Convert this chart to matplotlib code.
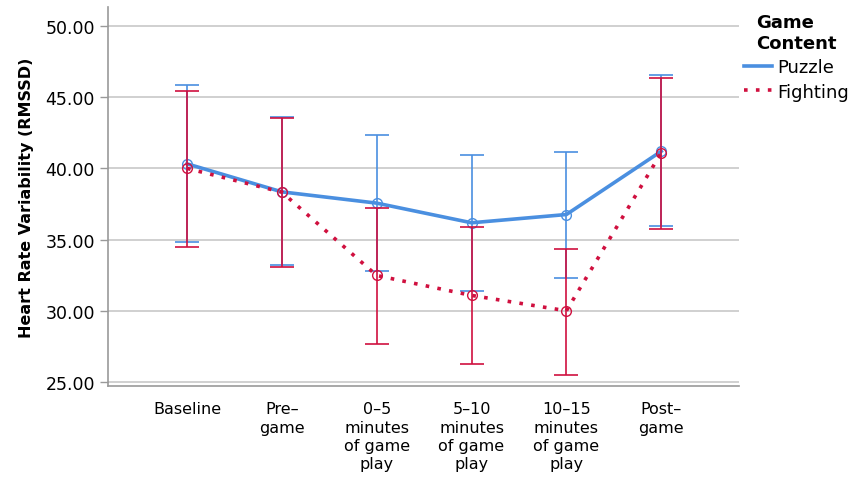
import numpy as np
import matplotlib.pyplot as plt

categories = ["Baseline", "Pre–\ngame", "0–5\nminutes\nof game\nplay",
              "5–10\nminutes\nof game\nplay", "10–15\nminutes\nof game\nplay",
              "Post–\ngame"]

puzzle_mean = [40.32, 38.35, 37.56, 36.18, 36.76, 41.20]
puzzle_low = [34.82, 33.20, 32.80, 31.38, 32.28, 35.92]
puzzle_high = [45.86, 43.60, 42.35, 40.95, 41.14, 46.56]

fighting_mean = [40.00, 38.33, 32.48, 31.08, 30.00, 41.09]
fighting_low = [34.47, 33.11, 27.68, 26.28, 25.51, 35.75]
fighting_high = [45.46, 43.52, 37.23, 35.87, 34.35, 46.37]

yticks = [25, 30, 35, 40, 45, 50]

blue = "#4a8fe0"
red = "#d0103f"

fig = plt.figure(figsize=(8.51, 4.81), dpi=100)
ax = fig.add_axes([0.1269, 0.1954, 0.7415, 0.788])

x = np.arange(len(categories))


def draw_series(mean, low, high, color, ls, lw, label, z):
    mean = np.array(mean)
    err = [mean - np.array(low), np.array(high) - mean]
    ax.errorbar(x, mean, yerr=err, fmt="none", ecolor=color, elinewidth=1.2,
                capsize=8.5, capthick=1.2, zorder=z)
    ax.plot(x, mean, color=color, linestyle=ls, linewidth=lw, label=label,
            zorder=z + 1)
    ax.plot(x, mean, linestyle="none", marker="o", markersize=7,
            markerfacecolor="none", markeredgecolor=color, markeredgewidth=1.0,
            zorder=z + 2)


draw_series(puzzle_mean, puzzle_low, puzzle_high, blue, "-", 2.6, "Puzzle", 3)
draw_series(fighting_mean, fighting_low, fighting_high, red, (0, (1, 2.3)),
            2.6, "Fighting", 6)

ax.set_xlim(-0.833, 5.82)
ax.set_ylim(24.72, 51.33)
ax.set_yticks(yticks)
ax.set_yticklabels([f"{v:.2f}" for v in yticks], fontsize=12.5)
ax.set_xticks(x)
ax.set_xticklabels(categories, fontsize=11.5, linespacing=1.28)
ax.tick_params(axis="x", length=0, pad=11)
ax.tick_params(axis="y", length=6, width=1, color="#999999", direction="out")

ax.yaxis.grid(True, color="#c8c8c8", linewidth=1.2)
ax.set_axisbelow(True)
for side in ["top", "right"]:
    ax.spines[side].set_visible(False)
for side in ["left", "bottom"]:
    ax.spines[side].set_color("#999999")
    ax.spines[side].set_linewidth(1.2)

ax.set_ylabel("Heart Rate Variability (RMSSD)", fontsize=11.5,
              fontweight="bold", labelpad=8)

leg = ax.legend(title="Game\nContent", loc="upper left",
                bbox_to_anchor=(0.99, 1.012), frameon=False, fontsize=13,
                handlelength=1.55, handletextpad=0.3, borderaxespad=0.2,
                labelspacing=0.35)
leg.get_title().set_fontweight("bold")
leg.get_title().set_fontsize(13)
leg.get_title().set_linespacing(1.2)

fig.savefig("out.png", dpi=100)
